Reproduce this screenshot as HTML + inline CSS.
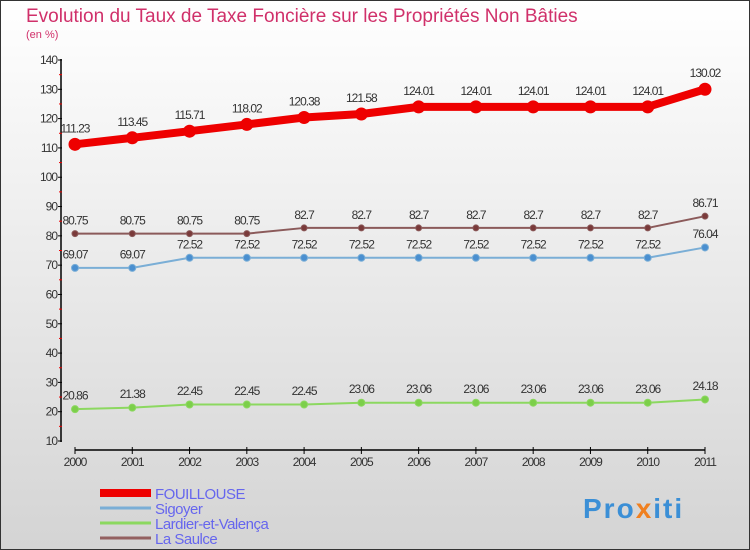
<!DOCTYPE html>
<html><head><meta charset="utf-8"><style>
body{margin:0}
svg{display:block;font-family:"Liberation Sans",sans-serif}
</style></head><body>
<svg width="750" height="550" viewBox="0 0 750 550">
<defs><linearGradient id="bg" x1="0" y1="0" x2="0" y2="1"><stop offset="0" stop-color="#ffffff"/><stop offset="1" stop-color="#d4d4d4"/></linearGradient></defs>
<rect x="0.5" y="0.5" width="749" height="549" fill="url(#bg)" stroke="#333"/>
<text x="26" y="22" font-size="19" fill="#d0306a">Evolution du Taux de Taxe Foncière sur les Propriétés Non Bâties</text>
<text x="26" y="38" font-size="11" fill="#d0306a">(en %)</text>
<g id="axes"></g>
<g id="series"></g>
<g id="legend"></g>
<text x="583" y="518" font-size="28" letter-spacing="2" font-weight="bold" fill="#3b8fd6">Pro<tspan fill="#f08020">x</tspan>iti</text>
</svg>
<script>
const years=[2000,2001,2002,2003,2004,2005,2006,2007,2008,2009,2010,2011];
const yTicks=[10,20,30,40,50,60,70,80,90,100,110,120,130,140];
const fouillouse=[111.23,113.45,115.71,118.02,120.38,121.58,124.01,124.01,124.01,124.01,124.01,130.02];
const sigoyer=[69.07,69.07,72.52,72.52,72.52,72.52,72.52,72.52,72.52,72.52,72.52,76.04];
const lardier=[20.86,21.38,22.45,22.45,22.45,23.06,23.06,23.06,23.06,23.06,23.06,24.18];
const saulce=[80.75,80.75,80.75,80.75,82.7,82.7,82.7,82.7,82.7,82.7,82.7,86.71];
const seriesNames=["FOUILLOUSE","Sigoyer","Lardier-et-Valença","La Saulce"];
const NS="http://www.w3.org/2000/svg";
const X=i=>75+i*(630/11);
const Y=v=>60+(140-v)*(381/130);
function mk(tag,at,parent){const e=document.createElementNS(NS,tag);for(const k in at)e.setAttribute(k,at[k]);parent.appendChild(e);return e;}
const axes=document.getElementById('axes');
let l=mk('line',{x1:61,y1:59,x2:61,y2:442,stroke:'#000','stroke-width':1.5},axes);


l=mk('line',{x1:75,y1:450,x2:705,y2:450,stroke:'#000','stroke-width':1.5},axes);


yTicks.forEach((v,i)=>{
  mk('line',{x1:58,y1:Y(v),x2:62,y2:Y(v),stroke:'#000'},axes);
  if(i<yTicks.length-1) mk('line',{x1:59,y1:Y(v+5),x2:62,y2:Y(v+5),stroke:'#e00'},axes);
  const t=mk('text',{x:57,y:Y(v)+4,'text-anchor':'end','font-size':12,fill:'#333','letter-spacing':'-1'},axes);
  t.textContent=v;
  
  
});
years.forEach((y,i)=>{
  mk('line',{x1:X(i),y1:447,x2:X(i),y2:454,stroke:'#000'},axes);
  const t=mk('text',{x:X(i),y:466,'text-anchor':'middle','font-size':12,fill:'#333','letter-spacing':'-1'},axes);
  t.textContent=y;
  
  
});
const sg=document.getElementById('series');
function draw(data,name,color,lw,r,fill,fmt){
  const g=mk('g',{},sg);
  
  
  const p=mk('polyline',{points:data.map((v,i)=>X(i)+','+Y(v)).join(' '),fill:'none',stroke:color,'stroke-width':lw,'stroke-linejoin':'round'},g);
  
  
  data.forEach((v,i)=>{
    const c=mk('circle',{cx:X(i),cy:Y(v),r:r,fill:fill,stroke:color,'stroke-width':1},g);
    
    
    const t=mk('text',{x:X(i),y:Y(v)-(r+6),'text-anchor':'middle','font-size':12,fill:'#333','letter-spacing':'-1'},g);
    t.textContent=fmt(v);
    
    
  });
}
const f=v=>String(+v.toFixed(2));
draw(lardier,'lardier','#8cd860',2,3.5,'#7ccf4a',f);
draw(sigoyer,'sigoyer','#7aaed6',2,3.5,'#4a8fd0',f);
draw(saulce,'la-saulce','#8b5a5a',2,3,'#7a3a3a',f);
draw(fouillouse,'fouillouse','#ee0000',8,6,'#ee0000',f);
const lg=document.getElementById('legend');
const cols=['#ee0000','#7aaed6','#8cd860','#936060'],ws=[8,3,3,3];
seriesNames.forEach((n,i)=>{
  const y=493+i*15;
  const ln=mk('line',{x1:100,y1:y,x2:151,y2:y,stroke:cols[i],'stroke-width':ws[i]},lg);
  
  
  const t=mk('text',{x:155,y:y+6,'font-size':15,fill:'#6666ee','letter-spacing':'-0.5'},lg);
  t.textContent=n;
  
  
});
</script>
</body></html>
